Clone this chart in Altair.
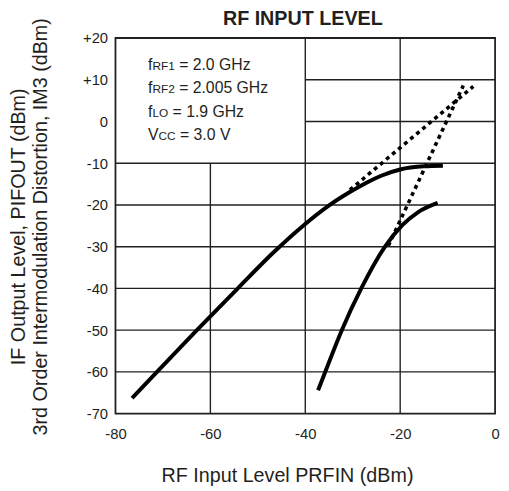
import altair as alt
import pandas as pd

# ---- data ----
pout_x = [-76.5, -71.5, -63.1, -54.4, -47.0, -41.0, -34.6, -30.6, -27.0, -24.0, -20.0, -15.0, -11.0]
pout_y = [-66.3, -60.3, -50.3, -40.2, -31.7, -25.5, -19.8, -16.9, -14.6, -13.0, -11.5, -10.75, -10.6]
im3_x = [-37.3, -35.8, -32.3, -28.2, -23.2, -19.5, -16.2, -12.1]
im3_y = [-64.4, -60.0, -50.0, -40.0, -30.0, -24.8, -21.7, -19.5]
pout_ext_x = [-30.6, -4.6]
pout_ext_y = [-16.4, 8.4]
im3_ext_x = [-22.5, -6.7]
im3_ext_y = [-29.8, 8.6]

x_ticks = [-80, -60, -40, -20, 0]
y_ticks = [-70, -60, -50, -40, -30, -20, -10, 0, 10, 20]

# grid segments (legend box area is left free)
hgrid_y = [10, 0, -10, -20, -30, -40, -50, -60]
hgrid_x1 = [-40, -40, -80, -80, -80, -80, -80, -80]
hgrid_x2 = [0, 0, 0, 0, 0, 0, 0, 0]
vgrid_x = [-60, -40, -20]
vgrid_y1 = [-70, -70, -70]
vgrid_y2 = [-10, 20, 20]

legend_pre = ["f", "f", "f", "V"]
legend_sub = ["RF1", "RF2", "LO", "CC"]
legend_rest = ["= 2.0 GHz", "= 2.005 GHz", "= 1.9 GHz", "= 3.0 V"]

title_text = "RF INPUT LEVEL"
x_title = "RF Input Level PRFIN (dBm)"
y_title = ["IF Output Level, PIFOUT (dBm)", "3rd Order Intermodulation Distortion, IM3 (dBm)"]

FONT = "Liberation Sans"
INK = "#231f20"

xscale = alt.Scale(domain=[-80, 0], nice=False, zero=False)
yscale = alt.Scale(domain=[-70, 20], nice=False, zero=False)

x_axis = alt.Axis(values=x_ticks, title=x_title, grid=False, ticks=False, domain=False,
                  labelExpr="'' + datum.value",
                  labelFlush=False, labelFont=FONT, labelFontSize=15, labelColor=INK, labelPadding=13,
                  titleFont=FONT, titleFontSize=20, titleFontWeight="normal", titleColor=INK,
                  titleX=174, titleY=69, titleAlign="center", titleBaseline="alphabetic")
y_axis = alt.Axis(values=y_ticks, title=y_title, grid=False, ticks=False, domain=False,
                  labelExpr="datum.value > 0 ? '+' + datum.value : '' + datum.value",
                  labelFont=FONT, labelFontSize=15, labelColor=INK, labelPadding=8,
                  titleFont=FONT, titleFontSize=20, titleFontWeight="normal", titleColor=INK,
                  titleLineHeight=22, titleAngle=270, titleX=-98, titleY=191,
                  titleAlign="center", titleBaseline="middle")


def X(f):
    return alt.X(f, type="quantitative", scale=xscale, axis=x_axis)


def Y(f):
    return alt.Y(f, type="quantitative", scale=yscale, axis=y_axis)


hgrid = pd.DataFrame({"x1": hgrid_x1, "x2": hgrid_x2, "y": hgrid_y})
vgrid = pd.DataFrame({"x": vgrid_x, "y1": vgrid_y1, "y2": vgrid_y2})

hg = alt.Chart(hgrid).mark_rule(stroke=INK, strokeWidth=1.4).encode(
    x=X("x1"), x2="x2:Q", y=Y("y"))
vg = alt.Chart(vgrid).mark_rule(stroke=INK, strokeWidth=1.4).encode(
    x=X("x"), y=Y("y1"), y2="y2:Q")


def curve(xs, ys, dashed=False):
    df = pd.DataFrame({"x": xs, "y": ys})
    if dashed:
        m = alt.Chart(df).mark_line(stroke="black", strokeWidth=3.6, strokeDash=[4, 4])
    else:
        m = alt.Chart(df).mark_line(stroke="black", strokeWidth=4, interpolate="monotone")
    return m.encode(x=X("x"), y=Y("y"))


layers = [hg, vg,
          curve(pout_x, pout_y), curve(im3_x, im3_y),
          curve(pout_ext_x, pout_ext_y, True), curve(im3_ext_x, im3_ext_y, True)]

# chart title (bold, centred over plot)
layers.append(alt.Chart(pd.DataFrame({"t": [title_text]})).mark_text(
    font=FONT, fontSize=20, fontWeight="bold", color=INK, align="center", baseline="alphabetic"
).encode(text="t:N", x=alt.value(190), y=alt.value(-13)))

# legend text block with small-caps subscripts
W = {"f": 0.278, "V": 0.667, "R": 0.722, "F": 0.611, "1": 0.556, "2": 0.556, "L": 0.556,
     "O": 0.778, "C": 0.722, " ": 0.278}
BIG, SMALL = 16, 12
LX = 33
row_y = [32.4, 56.0, 79.8, 103.4]
for i in range(4):
    pre, sub, rest = legend_pre[i], legend_sub[i], legend_rest[i]
    w_pre = sum(W[c] for c in pre) * BIG
    w_sub = sum(W[c] for c in sub) * SMALL
    w_sp = W[" "] * BIG
    for txt, size, dx in [(pre, BIG, 0), (sub, SMALL, w_pre), (rest, BIG, w_pre + w_sub + w_sp)]:
        layers.append(alt.Chart(pd.DataFrame({"t": [txt]})).mark_text(
            font=FONT, fontSize=size, color=INK, align="left", baseline="alphabetic"
        ).encode(text="t:N", x=alt.value(LX + dx), y=alt.value(row_y[i])))

chart = alt.layer(*layers).properties(
    width=385, height=381,
    autosize=alt.AutoSizeParams(type="none"),
    padding={"left": 109, "top": 27, "right": 6, "bottom": 73},
    background="white",
).configure_view(stroke=INK, strokeWidth=1.8)

chart.save("out.html", embed_options={"renderer": "svg", "actions": False})
